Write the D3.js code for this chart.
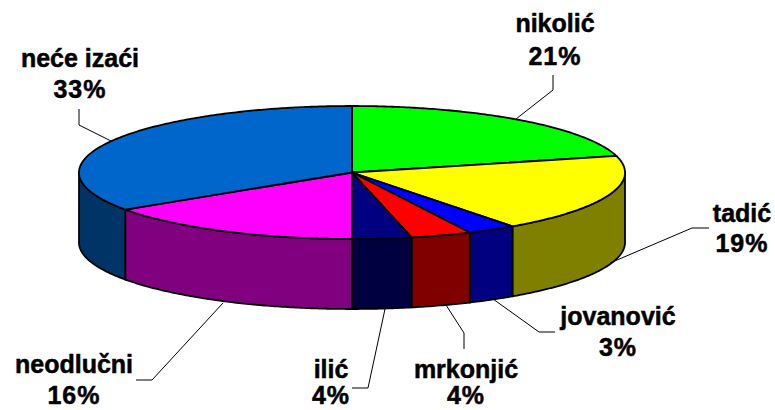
<!DOCTYPE html>
<html>
<head>
<meta charset="utf-8">
<script src="https://cdn.jsdelivr.net/npm/d3@7"></script>
<style>
  html, body { margin: 0; padding: 0; background: #fff; }
  text { font-family: "Liberation Sans", Arial, sans-serif; font-weight: bold; font-size: 25px; fill: #000; stroke: #000; stroke-width: 0.5px; text-anchor: middle; }
  .percent { letter-spacing: 1px; }
</style>
</head>
<body>
<div id="chart"></div>
<script>
// Data. The drawn slices do not quite follow the printed labels
let names = ["nikolić", "tadić", "jovanović", "mrkonjić", "ilić", "neodlučni", "neće izaći"];
let shares = [21, 19, 2.9, 3.6, 3.5, 15.6, 34.4];
let percentLabels = ["21%", "19%", "3%", "4%", "4%", "16%", "33%"];
let topColors = ["#00ff00", "#ffff00", "#0000ff", "#ff0000", "#000080", "#ff00ff", "#0066cc"];
let wallColors = ["#008000", "#808000", "#000080", "#800000", "#000040", "#800080", "#003366"];

let svgWidth = 775;
let svgHeight = 410;
let depth = 70;

// Label centre and baselines, then the leader line for each slice
let labelLayout = [
    { x: 555, y1: 32, y2: 65, leader: [[516, 119], [553, 90], [553, 75]] },
    { x: 742, y1: 222, y2: 252, leader: [[610, 263], [692, 228], [709, 228]] },
    { x: 618, y1: 325, y2: 356, leader: [[493, 299], [539, 332], [555, 332]] },
    { x: 466, y1: 378, y2: 404, leader: [[446, 305], [464, 333], [464, 349]] },
    { x: 331, y1: 378, y2: 404, leader: [[385, 309], [368, 388], [352, 388]] },
    { x: 74, y1: 373, y2: 404, leader: [[223, 303], [152, 380], [136, 380]] },
    { x: 80, y1: 67, y2: 98, leader: [[111, 141], [79, 125], [79, 109]] }
];

let svg = d3.select("#chart")
    .append("svg")
    .attr("width", svgWidth)
    .attr("height", svgHeight)
    .style("display", "block");

// The tilted disc: unit circle mapped onto the ellipse
let xScale = d3.scaleLinear().domain([-1, 1]).range([79, 625]);
let yScale = d3.scaleLinear().domain([-1, 1]).range([106, 239]);

let slices = d3.pie().sort(null).value(d => d)(shares);

// Points along the rim between two angles, clockwise from the top
function rim(a0, a1, drop) {
    let n = Math.max(2, Math.ceil((a1 - a0) / 0.01));
    return d3.range(n + 1).map(function(i) {
        let a = a0 + (a1 - a0) * i / n;
        return [xScale(Math.sin(a)), yScale(-Math.cos(a)) + drop];
    });
}

let line = d3.line();

// Walls first, only the part of each slice that faces the viewer
let front0 = Math.PI / 2;
let front1 = Math.PI * 1.5;

svg.append("g").selectAll("path")
    .data(slices.filter(d => d.endAngle > front0 && d.startAngle < front1))
    .enter()
    .append("path")
    .attr("d", function(d) {
        let a0 = Math.max(d.startAngle, front0);
        let a1 = Math.min(d.endAngle, front1);
        return line(rim(a0, a1, 0).concat(rim(a0, a1, depth).reverse())) + "Z";
    })
    .attr("fill", d => wallColors[d.index])
    .attr("stroke", "#000")
    .attr("stroke-width", 1.8)
    .attr("stroke-linejoin", "round");

// Top of the pie
svg.append("g").selectAll("path")
    .data(slices)
    .enter()
    .append("path")
    .attr("d", function(d) {
        let centre = [xScale(0), yScale(0)];
        return line([centre].concat(rim(d.startAngle, d.endAngle, 0))) + "Z";
    })
    .attr("fill", d => topColors[d.index])
    .attr("stroke", "#000")
    .attr("stroke-width", 1.8)
    .attr("stroke-linejoin", "round");

// Leader lines
svg.append("g").selectAll("path")
    .data(labelLayout)
    .enter()
    .append("path")
    .attr("d", d => line(d.leader))
    .attr("fill", "none")
    .attr("stroke", "#000")
    .attr("stroke-width", 1);

// Labels
let labels = svg.append("g").selectAll("g")
    .data(labelLayout)
    .enter()
    .append("g");

labels.append("text")
    .attr("x", d => d.x)
    .attr("y", d => d.y1)
    .text((d, i) => names[i]);

labels.append("text")
    .attr("class", "percent")
    .attr("x", d => d.x)
    .attr("y", d => d.y2)
    .text((d, i) => percentLabels[i]);
</script>
</body>
</html>
